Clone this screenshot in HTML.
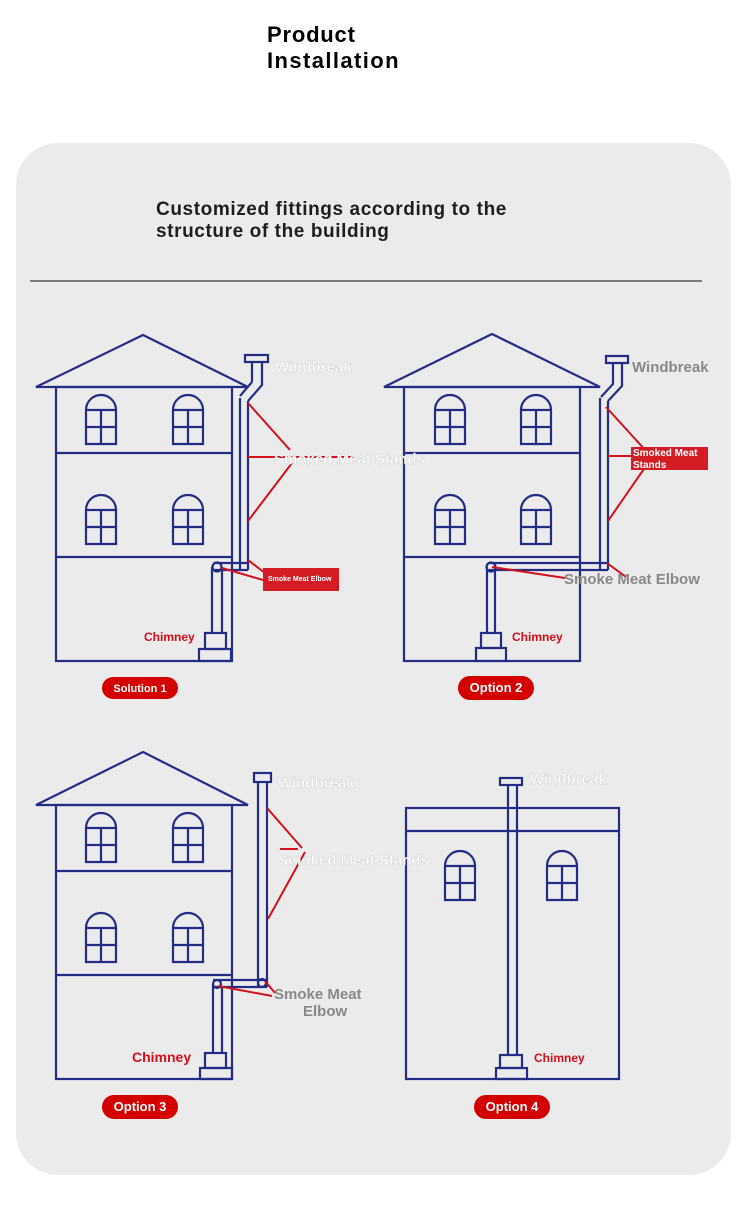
<!DOCTYPE html>
<html><head><meta charset="utf-8"><style>
html,body{margin:0;padding:0;background:#fff;}
body{width:750px;height:1207px;position:relative;overflow:hidden;font-family:"Liberation Sans",sans-serif;}
svg{position:absolute;left:0;top:0;}
</style></head><body>
<svg width="750" height="1207" viewBox="0 0 750 1207" xmlns="http://www.w3.org/2000/svg" font-family="Liberation Sans, sans-serif">
<defs>
<g id="w" fill="none" stroke="#232d86" stroke-width="2.2">
<path d="M0,49 V15 A15,15 0 0 1 30,15 V49 Z"/>
<path d="M0,15 H30 M0,32 H30 M15,15 V49"/>
</g>
</defs>
<text x="267" y="42" font-size="22" font-weight="bold" fill="#000" letter-spacing="0.8">Product</text>
<text x="267" y="68" font-size="22" font-weight="bold" fill="#000" letter-spacing="1.4">Installation</text>
<rect x="16" y="143" width="715" height="1032" rx="42" fill="#ebebeb"/>
<text x="156" y="215" font-size="19" font-weight="bold" fill="#1e1e1e" letter-spacing="0.6">Customized fittings according to the</text>
<text x="156" y="237" font-size="19" font-weight="bold" fill="#1e1e1e" letter-spacing="0.6">structure of the building</text>
<line x1="30" y1="281" x2="702" y2="281" stroke="#555" stroke-width="1.5"/>

<g fill="none" stroke="#232d86" stroke-width="2.2">
<path d="M36,387 L143,335 L248,387 Z"/>
<rect x="56" y="387" width="176" height="274"/>
<path d="M56,453 H232 M56,557 H232"/>
<path d="M245,355 H268 V362 H245 Z M252,362 V382 M262,362 V385 L248,401 M252,382 L240,396 M240,398 V570 M248,401 V570 M214,563 H248 M214,570 H248"/>
<circle cx="217" cy="567" r="4.5"/>
<path d="M212,567 V633 M222,570 V633"/>
<rect x="205" y="633" width="21" height="16"/><rect x="199" y="649" width="32" height="12"/>
<path d="M384,387 L492,334 L600,387 Z"/>
<rect x="404" y="387" width="176" height="274"/>
<path d="M404,453 H580 M404,557 H580"/>
<path d="M606,356 H628 V363 H606 Z M613,363 V383 M622,363 V386 L608,401 M613,383 V384 L601,397 M600,398 V570 M608,401 V570 M489,563 H608 M489,570 H608"/>
<circle cx="491" cy="567" r="4.5"/>
<path d="M487,567 V633 M495,570 V633"/>
<rect x="481" y="633" width="20" height="15"/><rect x="476" y="648" width="30" height="13"/>
<path d="M36,805 L143,752 L248,805 Z"/>
<rect x="56" y="805" width="176" height="274"/>
<path d="M56,871 H232 M56,975 H232"/>
<rect x="254" y="773" width="17" height="9"/>
<path d="M258,782 V987 M267,782 V987 M213,980 H267 M213,987 H267"/>
<circle cx="217" cy="984" r="4"/><circle cx="262" cy="983" r="4"/>
<path d="M213,984 V1053 M222,987 V1053"/>
<rect x="205" y="1053" width="21" height="15"/><rect x="200" y="1068" width="32" height="11"/>
<rect x="406" y="808" width="213" height="271"/>
<path d="M406,831 H619"/>
<rect x="500" y="778" width="22" height="7"/>
<path d="M508,785 V1055 M517,785 V1055"/>
<rect x="500" y="1055" width="22" height="13"/><rect x="496" y="1068" width="31" height="11"/>
</g>
<use href="#w" x="86" y="395"/><use href="#w" x="173" y="395"/>
<use href="#w" x="86" y="495"/><use href="#w" x="173" y="495"/>
<use href="#w" x="435" y="395"/><use href="#w" x="521" y="395"/>
<use href="#w" x="435" y="495"/><use href="#w" x="521" y="495"/>
<use href="#w" x="86" y="813"/><use href="#w" x="173" y="813"/>
<use href="#w" x="86" y="913"/><use href="#w" x="173" y="913"/>
<use href="#w" x="445" y="851"/><use href="#w" x="547" y="851"/>

<g stroke="#d4101c" stroke-width="2" fill="none">
<path d="M248,403 L290,450 M248,457 H355 M248,521 L292,463 M248,560 L265,573 M222,568 L263,580"/>
<path d="M606,407 L647,452 M608,456 H632 M608,521 L648,463 M607,563 L626,577 M492,567 L565,578"/>
<path d="M267,808 L302,848 M280,849 H298 M268,919 L305,852 M265,981 L275,993 M218,986 L272,996"/>
</g>
<rect x="263" y="568" width="76" height="23" fill="#d41c24"/>
<text x="268" y="581" font-size="7" font-weight="bold" fill="#fff">Smoke Meat Elbow</text>
<rect x="631" y="447" width="77" height="23" fill="#d41c24"/>
<text x="633" y="456" font-size="10" font-weight="bold" fill="#fff">Smoked Meat</text>
<text x="633" y="468" font-size="10" font-weight="bold" fill="#fff">Stands</text>

<g font-size="15" font-weight="bold" fill="#fff" stroke="#ccc" stroke-width="0.4">
<text x="275" y="372">Windbreak</text>
<text x="274" y="464">Smoked Meat Stands</text>
<text x="278" y="788">Windbreak</text>
<text x="278" y="865">Smoked Meat Stands</text>
<text x="530" y="784">Windbreak</text>
</g>
<g font-size="15" font-weight="bold" fill="#888">
<text x="632" y="372">Windbreak</text>
<text x="564" y="584">Smoke Meat Elbow</text>
<text x="274" y="999">Smoke Meat</text>
<text x="303" y="1016">Elbow</text>
</g>
<g font-weight="bold" fill="#d4101c">
<text x="144" y="641" font-size="12">Chimney</text>
<text x="512" y="641" font-size="12">Chimney</text>
<text x="132" y="1062" font-size="14">Chimney</text>
<text x="534" y="1062" font-size="12">Chimney</text>
</g>
<g font-weight="bold" fill="#fff">
<rect x="102" y="677" width="76" height="22" rx="11" fill="#d40000"/>
<text x="140" y="692" font-size="11" text-anchor="middle">Solution 1</text>
<rect x="458" y="676" width="76" height="24" rx="12" fill="#d40000"/>
<text x="496" y="692" font-size="13" text-anchor="middle">Option 2</text>
<rect x="102" y="1095" width="76" height="24" rx="12" fill="#d40000"/>
<text x="140" y="1111" font-size="13" text-anchor="middle">Option 3</text>
<rect x="474" y="1095" width="76" height="24" rx="12" fill="#d40000"/>
<text x="512" y="1111" font-size="13" text-anchor="middle">Option 4</text>
</g>
</svg>
</body></html>
